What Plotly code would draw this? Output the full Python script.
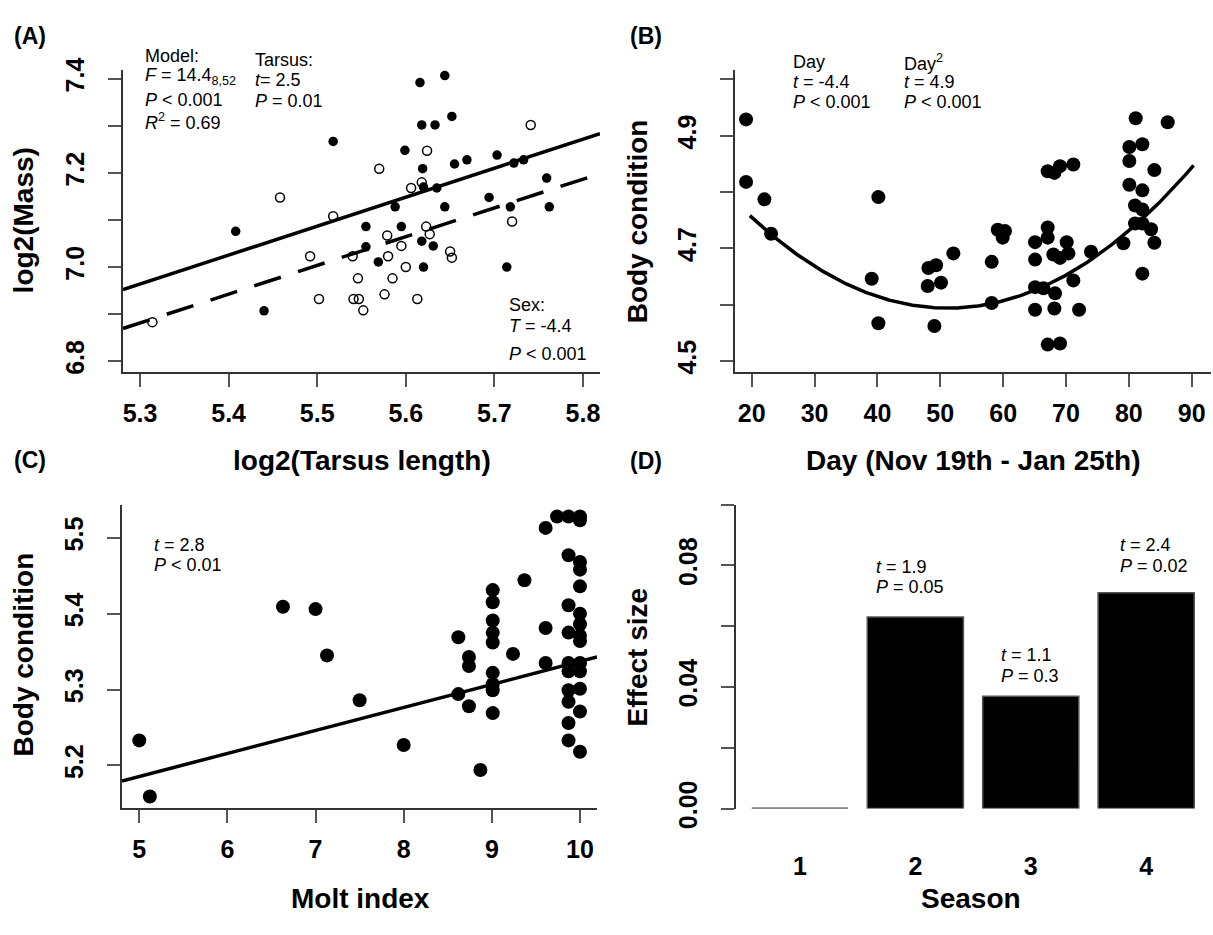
import numpy as np
import plotly.graph_objects as go

W, H = 1213, 935

# ---------------- data ----------------
# (A) log2 tarsus vs log2 mass; filled = one sex, open = other sex
tarsus_filled = [5.644, 5.616, 5.652, 5.618, 5.633, 5.518, 5.599, 5.619, 5.669, 5.655, 5.703,
                 5.733, 5.722, 5.759, 5.635, 5.620, 5.694, 5.588, 5.644, 5.718, 5.762, 5.408,
                 5.555, 5.595, 5.618, 5.631, 5.555, 5.569, 5.620, 5.714, 5.440]
mass_filled = [7.407, 7.392, 7.320, 7.302, 7.302, 7.267, 7.248, 7.209, 7.228, 7.219, 7.238,
               7.228, 7.221, 7.189, 7.168, 7.170, 7.148, 7.128, 7.128, 7.128, 7.128, 7.076,
               7.086, 7.086, 7.055, 7.045, 7.043, 7.011, 7.000, 7.000, 6.907]
tarsus_open = [5.741, 5.624, 5.570, 5.458, 5.618, 5.606, 5.518, 5.720, 5.623, 5.579, 5.627,
               5.595, 5.492, 5.540, 5.580, 5.650, 5.652, 5.600, 5.546, 5.585, 5.502, 5.541,
               5.547, 5.576, 5.613, 5.552, 5.314]
mass_open = [7.302, 7.247, 7.209, 7.148, 7.180, 7.168, 7.108, 7.097, 7.086, 7.067, 7.070,
             7.045, 7.023, 7.023, 7.023, 7.033, 7.020, 7.000, 6.976, 6.976, 6.932, 6.932,
             6.932, 6.942, 6.932, 6.908, 6.883]
fit_filled = (3.699, 0.616)   # intercept, slope
fit_open = (3.643, 0.611)

# (B) day vs body condition
day = [19.10, 19.10, 22.02, 23.08, 40.15, 39.09, 40.15, 48.11, 49.33, 48.00, 50.12, 49.06,
       52.08, 58.18, 58.18, 59.14, 60.30, 59.93, 65.08, 67.09, 67.09, 65.08, 70.11, 67.99,
       69.05, 70.38, 65.08, 66.40, 68.26, 65.08, 68.15, 72.08, 71.17, 67.09, 69.05, 67.09,
       68.15, 69.05, 71.17, 73.98, 79.13, 81.09, 86.18, 80.08, 82.15, 80.08, 84.06, 80.08,
       82.15, 80.98, 82.15, 80.98, 82.15, 83.53, 84.06, 82.15]
cond_day = [4.929, 4.818, 4.787, 4.726, 4.791, 4.646, 4.567, 4.665, 4.670, 4.633, 4.639, 4.562,
            4.691, 4.676, 4.603, 4.733, 4.731, 4.719, 4.711, 4.737, 4.719, 4.680, 4.711, 4.689,
            4.683, 4.691, 4.631, 4.629, 4.620, 4.591, 4.593, 4.591, 4.643, 4.529, 4.531, 4.837,
            4.834, 4.846, 4.849, 4.694, 4.709, 4.931, 4.924, 4.880, 4.885, 4.855, 4.839, 4.813,
            4.803, 4.776, 4.769, 4.744, 4.744, 4.734, 4.710, 4.655]
quad_coef = (5.028, -0.016965, 0.0001657)  # c0 + c1*d + c2*d^2
day_pred_range = (19.7, 90.3)

# (C) molt index vs body condition
molt = [5.00, 5.12, 6.63, 7.00, 7.13, 7.50, 8.00, 8.62, 8.74, 8.74, 8.62, 8.74, 8.87, 9.01,
        9.01, 9.01, 9.01, 9.01, 9.01, 9.01, 9.01, 9.01, 9.24, 9.37, 9.61, 9.61, 9.61, 9.74,
        9.87, 10.0, 10.0, 9.87, 10.0, 10.0, 10.0, 9.87, 10.0, 10.0, 10.0, 9.87, 10.0, 9.87,
        10.0, 9.87, 10.0, 10.0, 9.87, 9.87, 10.0, 9.87, 9.87, 10.0]
cond_molt = [5.233, 5.159, 5.409, 5.406, 5.345, 5.286, 5.227, 5.369, 5.343, 5.331, 5.294, 5.278,
             5.194, 5.431, 5.415, 5.391, 5.375, 5.362, 5.322, 5.307, 5.299, 5.269, 5.347, 5.444,
             5.513, 5.381, 5.335, 5.528, 5.528, 5.528, 5.523, 5.477, 5.468, 5.458, 5.436, 5.411,
             5.400, 5.386, 5.371, 5.375, 5.364, 5.335, 5.335, 5.324, 5.324, 5.301, 5.299, 5.284,
             5.271, 5.256, 5.233, 5.218]
fit_molt = (5.034, 0.0303)

# (D) effect size by season
seasons = ["1", "2", "3", "4"]
effect = [0.0, 0.063, 0.037, 0.071]
season_pos = [1, 2, 3, 4]
bar_width = 0.833

# tick labels (major = labelled, minor = unlabelled)
a_xticks = [5.3, 5.4, 5.5, 5.6, 5.7, 5.8]
a_yticks = [6.8, 7.0, 7.2, 7.4]
a_yminor = [6.9, 7.1, 7.3]
b_xticks = [20, 30, 40, 50, 60, 70, 80, 90]
b_yticks = [4.5, 4.7, 4.9]
b_yminor = [4.6, 4.8, 5.0]
c_xticks = [5, 6, 7, 8, 9, 10]
c_yticks = [5.2, 5.3, 5.4, 5.5]
d_yticks = [0.0, 0.04, 0.08]
d_ylabels = ["0.00", "0.04", "0.08"]
d_yminor = [0.02, 0.06, 0.10]

# ---------------- figure ----------------
FONT = "Liberation Sans, Arial, Helvetica, sans-serif"
fig = go.Figure()

def px_x(p):
    return p / W

def px_y(p):
    return 1 - p / H

# A
fig.add_trace(go.Scatter(x=tarsus_open, y=mass_open, mode="markers", xaxis="x", yaxis="y",
                         marker=dict(symbol="circle-open", size=9, color="black", line=dict(width=1.5))))
fig.add_trace(go.Scatter(x=tarsus_filled, y=mass_filled, mode="markers", xaxis="x", yaxis="y",
                         marker=dict(symbol="circle", size=9.5, color="black")))
a_xr = [5.2808, 5.8192]
xa = np.array(a_xr)
fig.add_trace(go.Scatter(x=xa, y=fit_filled[0] + fit_filled[1] * xa, mode="lines", xaxis="x", yaxis="y",
                         line=dict(color="black", width=3.5)))
fig.add_trace(go.Scatter(x=xa, y=fit_open[0] + fit_open[1] * xa, mode="lines", xaxis="x", yaxis="y",
                         line=dict(color="black", width=3.5, dash="28px,18px")))

# B
fig.add_trace(go.Scatter(x=day, y=cond_day, mode="markers", xaxis="x2", yaxis="y2",
                         marker=dict(symbol="circle", size=14, color="black")))
dp = np.linspace(day_pred_range[0], day_pred_range[1], 200)
fig.add_trace(go.Scatter(x=dp, y=quad_coef[0] + quad_coef[1] * dp + quad_coef[2] * dp ** 2,
                         mode="lines", xaxis="x2", yaxis="y2", line=dict(color="black", width=3.5)))

# C
fig.add_trace(go.Scatter(x=molt, y=cond_molt, mode="markers", xaxis="x3", yaxis="y3",
                         marker=dict(symbol="circle", size=14, color="black")))
c_xr = [4.804, 10.193]
xc = np.array(c_xr)
fig.add_trace(go.Scatter(x=xc, y=fit_molt[0] + fit_molt[1] * xc, mode="lines", xaxis="x3", yaxis="y3",
                         line=dict(color="black", width=3.5)))

# D
fig.add_trace(go.Bar(x=season_pos, y=effect, width=bar_width, xaxis="x4", yaxis="y4",
                     marker=dict(color="black", line=dict(color="#555555", width=1.5))))
for p, v in zip(season_pos, effect):
    if v == 0:
        fig.add_trace(go.Scatter(x=[p - bar_width / 2, p + bar_width / 2], y=[v, v], mode="lines",
                                 xaxis="x4", yaxis="y4", cliponaxis=False,
                                 line=dict(color="#666666", width=2)))

tickfont = dict(family=FONT, size=25, color="black", weight="bold")
base = dict(showline=True, linecolor="#333333", linewidth=2, ticks="outside", ticklen=13,
            tickwidth=1.5, tickcolor="#555555", showgrid=False, zeroline=False,
            tickfont=tickfont, mirror=False, fixedrange=True)

def minor(vals):
    return dict(tickmode="array", tickvals=vals, ticks="outside", ticklen=13,
                tickwidth=1.5, tickcolor="#555555", showgrid=False)

def xax(dom, rng, tv, tt=None, anchor="y", **kw):
    d = dict(base)
    d.update(domain=[px_x(dom[0]), px_x(dom[1])], range=rng, tickmode="array", tickvals=tv,
             ticktext=tt if tt is not None else [str(t) for t in tv], anchor=anchor,
             ticklabelstandoff=5)
    d.update(kw)
    return d

def yax(dom, rng, tv, tt, anchor="x", mvals=None, **kw):
    d = dict(base)
    d.update(domain=[px_y(dom[1]), px_y(dom[0])], range=rng, tickmode="array", tickvals=tv,
             ticktext=tt, anchor=anchor, tickangle=-90, ticklabelstandoff=14)
    if mvals:
        d["minor"] = minor(mvals)
    d.update(kw)
    return d

fig.update_layout(
    width=W, height=H, margin=dict(l=0, r=0, t=0, b=0), autosize=False,
    paper_bgcolor="white", plot_bgcolor="white", showlegend=False,
    xaxis=xax((123, 600), a_xr, a_xticks, anchor="y"),
    yaxis=yax((60, 373), [6.7774, 7.419], a_yticks, [f"{t:.1f}" for t in a_yticks], anchor="x",
              mvals=a_yminor),
    xaxis2=xax((735, 1211), [17.34, 93.07], b_xticks, anchor="y2"),
    yaxis2=yax((60, 373), [4.4806, 5.017], b_yticks, [f"{t:.1f}" for t in b_yticks], anchor="x2",
               mvals=b_yminor),
    xaxis3=xax((122, 597), c_xr, c_xticks, anchor="y3"),
    yaxis3=yax((511, 825), [5.1441, 5.5432], c_yticks, [f"{t:.1f}" for t in c_yticks], anchor="x3"),
    xaxis4=xax((735.5, 1213), [0.442, 4.579], season_pos, seasons, anchor="y4",
               showline=False, ticks="", ticklabelstandoff=40),
    yaxis4=yax((510.7, 825.7), [0, 0.1], d_yticks, d_ylabels, anchor="x4", mvals=d_yminor),
    bargap=0.167,
)

ann = []

def txt(x, y, s, size=18, bold=False, angle=0, xanchor="left"):
    ann.append(dict(x=px_x(x), y=px_y(y), xref="paper", yref="paper", text=s, showarrow=False,
                    xanchor=xanchor, yanchor="middle", textangle=angle,
                    font=dict(family=FONT, size=size, color="black",
                              weight="bold" if bold else "normal")))

# panel labels
txt(12, 25, "(A)", 23, True)
txt(628, 25, "(B)", 23, True)
txt(12, 464, "(C)", 23, True)
txt(628, 465, "(D)", 23, True)

# axis titles
txt(361.5, 465, "log2(Tarsus length)", 28, True, xanchor="center")
txt(973, 465, "Day (Nov 19th - Jan 25th)", 28, True, xanchor="center")
txt(360, 919, "Molt index", 28, True, xanchor="center")
txt(971, 919, "Season", 28, True, xanchor="center")
txt(23, 216, "log2(Mass)", 28, True, angle=-90, xanchor="center")
txt(637, 217, "Body condition", 28, True, angle=-90, xanchor="center")
txt(23, 666, "Body condition", 28, True, angle=-90, xanchor="center")
txt(637, 669, "Effect size", 28, True, angle=-90, xanchor="center")

# stats text A
txt(143, 46, "Model:")
txt(143, 67, "<i>F</i> = 14.4<sub>8,52</sub>")
txt(143, 91, "<i>P</i> &lt; 0.001")
txt(143, 113, "<i>R</i><sup>2</sup> = 0.69")
txt(253, 50, "Tarsus:")
txt(253, 71, "<i>t</i>= 2.5")
txt(253, 92, "<i>P</i> = 0.01")
txt(507, 304, "Sex:")
txt(507, 326, "<i>T</i> = -4.4")
txt(507, 354, "<i>P</i> &lt; 0.001")
# B
txt(791, 52, "Day")
txt(791, 73, "<i>t</i> = -4.4")
txt(791, 93, "<i>P</i> &lt; 0.001")
txt(902, 52, "Day<sup>2</sup>")
txt(902, 73, "<i>t</i> = 4.9")
txt(902, 93, "<i>P</i> &lt; 0.001")
# C
txt(152, 553, "<i>t</i> = 2.8")
txt(152, 573, "<i>P</i> &lt; 0.01")
# D
txt(874, 575, "<i>t</i> = 1.9")
txt(874, 596, "<i>P</i> = 0.05")
txt(999, 667, "<i>t</i> = 1.1")
txt(999, 688, "<i>P</i> = 0.3")
txt(1118, 553, "<i>t</i> = 2.4")
txt(1118, 574, "<i>P</i> = 0.02")

fig.update_layout(annotations=ann)
fig.write_html("out.html", config={"displayModeBar": False},
               post_script="document.body.style.margin='0';")
